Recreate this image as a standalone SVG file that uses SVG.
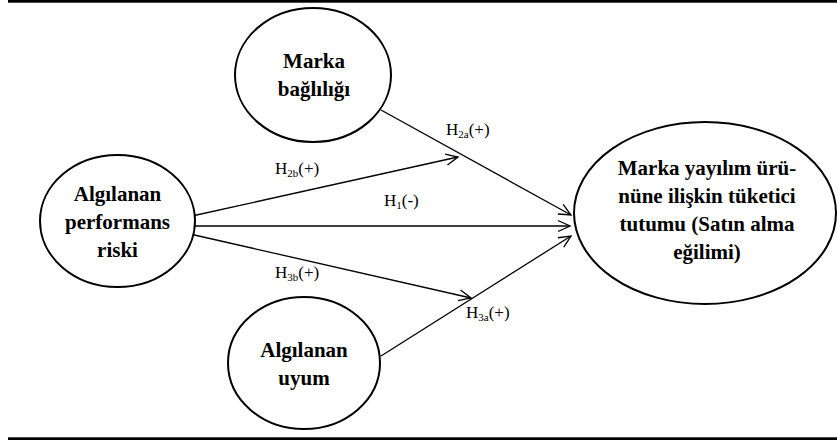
<svg xmlns="http://www.w3.org/2000/svg" width="837" height="441" viewBox="0 0 837 441">
<defs>
<marker id="arr" markerUnits="userSpaceOnUse" markerWidth="14" markerHeight="13" refX="12" refY="5.5" orient="auto" overflow="visible">
<path d="M0,0 L12,5.5 L0,11" fill="none" stroke="#000" stroke-width="1.3"/>
</marker>
<style>
.node ellipse{fill:#fff;stroke:#000;stroke-width:2}
.nt{font-family:"Liberation Serif","Times New Roman",serif;font-weight:bold;font-size:21px;text-anchor:middle;fill:#000}
.edge{stroke:#000;stroke-width:1.3;fill:none;marker-end:url(#arr)}
.lb{font-family:"Liberation Serif","Times New Roman",serif;font-size:17px;fill:#000}
.sub{font-size:11px}
</style>
</defs>
<rect width="837" height="441" fill="#fff"/>
<rect x="8" y="0" width="829" height="2.7" fill="#000"/>
<rect x="8" y="437.3" width="829" height="2.7" fill="#000"/>

<g id="connectors">
<line class="edge" x1="381" y1="110" x2="571" y2="215"/>
<line class="edge" x1="192" y1="216" x2="458" y2="157"/>
<line class="edge" x1="194" y1="226" x2="570" y2="226"/>
<line class="edge" x1="190" y1="234" x2="471" y2="298"/>
<line class="edge" x1="381" y1="356" x2="571" y2="236"/>
<text class="lb" x="446" y="135">H<tspan class="sub" dy="3">2a</tspan><tspan dy="-3">(+)</tspan></text>
<text class="lb" x="275" y="174">H<tspan class="sub" dy="3">2b</tspan><tspan dy="-3">(+)</tspan></text>
<text class="lb" x="384" y="206">H<tspan class="sub" dy="3">1</tspan><tspan dy="-3">(-)</tspan></text>
<text class="lb" x="275" y="278">H<tspan class="sub" dy="3">3b</tspan><tspan dy="-3">(+)</tspan></text>
<text class="lb" x="466" y="318">H<tspan class="sub" dy="3">3a</tspan><tspan dy="-3">(+)</tspan></text>
</g>

<g id="marka-bagliligi" class="node">
<ellipse cx="313" cy="75" rx="78" ry="67"/>
<text class="nt" x="314" y="68">Marka</text>
<text class="nt" x="314" y="96">bağlılığı</text>
</g>

<g id="algilanan-performans-riski" class="node">
<ellipse cx="117.5" cy="221" rx="77.5" ry="66"/>
<text class="nt" x="117.5" y="201">Algılanan</text>
<text class="nt" x="117.5" y="229">performans</text>
<text class="nt" x="117.5" y="257">riski</text>
</g>

<g id="algilanan-uyum" class="node">
<ellipse cx="304" cy="363" rx="76" ry="66"/>
<text class="nt" x="304" y="357">Algılanan</text>
<text class="nt" x="304" y="385">uyum</text>
</g>

<g id="tuketici-tutumu" class="node">
<ellipse cx="705" cy="213" rx="131" ry="91"/>
<text class="nt" x="707" y="175">Marka yayılım ürü-</text>
<text class="nt" x="707" y="203">nüne ilişkin tüketici</text>
<text class="nt" x="707" y="231">tutumu (Satın alma</text>
<text class="nt" x="707" y="259">eğilimi)</text>
</g>
</svg>
